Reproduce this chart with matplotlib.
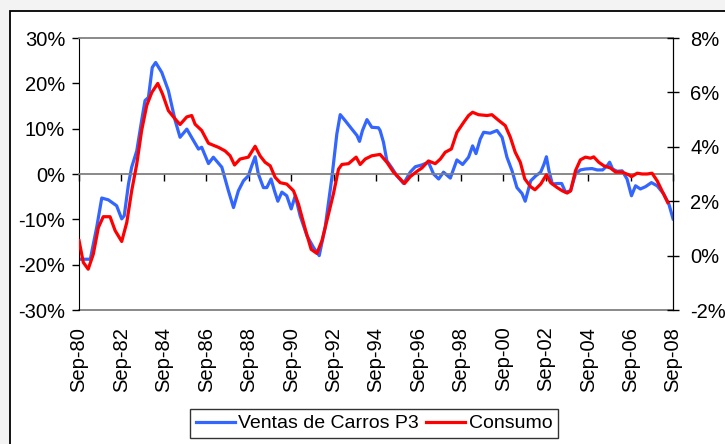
import matplotlib
matplotlib.use("Agg")
import matplotlib.pyplot as plt
from matplotlib.patches import Rectangle
from matplotlib.ticker import FuncFormatter, MultipleLocator

plt.rcParams['font.family'] = ['Liberation Sans', 'DejaVu Sans']
plt.rcParams['font.size'] = 14

# ---- data (decimal years) ----
ventas_t = [1980.67, 1981.20, 1981.50, 1981.74, 1982.05, 1982.44, 1982.68, 1982.80, 1983.00, 1983.15,
            1983.39, 1983.62, 1983.78, 1983.94, 1984.12, 1984.28, 1984.57, 1984.88, 1985.20, 1985.43,
            1985.75, 1986.06, 1986.30, 1986.45, 1986.77, 1987.00, 1987.40, 1987.71, 1987.95, 1988.18,
            1988.42, 1988.65, 1988.81, 1988.97, 1989.12, 1989.36, 1989.52, 1989.72, 1989.88, 1990.04,
            1990.23, 1990.46, 1990.67, 1990.86, 1991.09, 1991.41, 1991.72, 1991.99, 1992.27, 1992.59,
            1992.82, 1992.98, 1993.21, 1993.53, 1993.77, 1993.89, 1994.03, 1994.24, 1994.47, 1994.78,
            1994.86, 1995.02, 1995.18, 1995.42, 1995.65, 1995.97, 1996.28, 1996.52, 1996.83, 1997.14,
            1997.38, 1997.62, 1997.85, 1998.17, 1998.48, 1998.75, 1999.03, 1999.22, 1999.38, 1999.58,
            1999.74, 2000.05, 2000.37, 2000.61, 2000.84, 2001.08, 2001.31, 2001.55, 2001.70, 2001.96,
            2002.20, 2002.43, 2002.59, 2002.70, 2002.82, 2002.98, 2003.21, 2003.42, 2003.60, 2003.84,
            2004.07, 2004.30, 2004.54, 2004.85, 2005.09, 2005.35, 2005.56, 2005.68, 2005.82, 2006.03,
            2006.27, 2006.50, 2006.71, 2006.90, 2007.13, 2007.37, 2007.65, 2007.92, 2008.23, 2008.47,
            2008.67]
ventas_v = [-18.8, -18.8, -11.8, -5.3, -5.7, -7.0, -9.9, -9.2, -2.2, 1.5,
            5.1, 11.8, 16.2, 16.9, 23.5, 24.6, 22.4, 18.4, 11.8, 8.1,
            9.9, 7.4, 5.5, 5.9, 2.3, 3.7, 1.5, -3.7, -7.4, -3.7,
            -1.5, -0.4, 1.8, 3.8, 0.0, -3.0, -3.0, -1.1, -3.7, -6.0,
            -4.0, -4.8, -7.7, -4.8, -9.2, -13.6, -16.2, -18.0, -11.8, -0.7,
            8.8, 13.1, 11.8, 9.9, 8.5, 7.2, 9.6, 12.0, 10.3, 10.2,
            9.6, 7.0, 2.9, 1.3, -0.4, -2.1, 0.4, 1.6, 2.0, 2.6,
            0.0, -1.1, 0.4, -0.9, 3.1, 2.1, 3.7, 6.2, 4.5, 7.7,
            9.2, 9.0, 9.6, 8.1, 3.7, 0.7, -3.0, -4.3, -6.0, -1.5,
            -0.4, 0.4, 2.2, 3.8, 0.7, -2.2, -2.1, -2.1, -4.0, -3.7,
            0.0, 0.9, 1.1, 1.2, 0.9, 0.9, 1.8, 2.6, 1.1, 0.6,
            0.7, -1.1, -4.8, -2.6, -3.3, -2.8, -1.9, -2.6, -4.4, -6.6,
            -9.9]

consumo_t = [1980.67, 1980.87, 1981.10, 1981.34, 1981.58, 1981.81, 1982.13, 1982.37, 1982.68, 1982.92,
             1983.15, 1983.39, 1983.62, 1983.86, 1984.10, 1984.38, 1984.60, 1984.88, 1985.20, 1985.43,
             1985.75, 1985.98, 1986.14, 1986.45, 1986.77, 1987.24, 1987.55, 1987.79, 1988.00, 1988.26,
             1988.65, 1988.97, 1989.20, 1989.44, 1989.68, 1989.91, 1990.15, 1990.46, 1990.78, 1991.01,
             1991.33, 1991.61, 1991.88, 1992.12, 1992.43, 1992.66, 1992.90, 1993.06, 1993.37, 1993.73,
             1993.92, 1994.16, 1994.47, 1994.86, 1995.18, 1995.49, 1995.73, 1996.01, 1996.28, 1996.60,
             1996.83, 1997.14, 1997.46, 1997.70, 1997.93, 1998.22, 1998.48, 1998.80, 1999.03, 1999.22,
             1999.50, 1999.90, 2000.13, 2000.45, 2000.76, 2001.00, 2001.23, 2001.47, 2001.68, 2001.96,
             2002.16, 2002.43, 2002.70, 2002.90, 2003.21, 2003.45, 2003.68, 2003.84, 2004.07, 2004.30,
             2004.54, 2004.78, 2004.93, 2005.17, 2005.41, 2005.72, 2005.96, 2006.27, 2006.58, 2006.71,
             2006.98, 2007.21, 2007.45, 2007.68, 2007.92, 2008.15, 2008.42]
consumo_v = [0.55, -0.25, -0.50, 0.05, 1.03, 1.43, 1.43, 0.92, 0.52, 1.22,
             2.38, 3.37, 4.60, 5.52, 6.00, 6.33, 5.95, 5.33, 5.02, 4.82,
             5.10, 5.15, 4.83, 4.60, 4.13, 3.98, 3.85, 3.67, 3.33, 3.55,
             3.62, 4.02, 3.67, 3.43, 3.30, 2.88, 2.68, 2.63, 2.38, 1.90,
             0.98, 0.23, 0.08, 0.55, 1.53, 2.27, 3.18, 3.35, 3.38, 3.62,
             3.35, 3.55, 3.67, 3.72, 3.43, 3.07, 2.88, 2.65, 2.90, 3.10,
             3.22, 3.48, 3.38, 3.55, 3.80, 3.92, 4.53, 4.90, 5.15, 5.27,
             5.18, 5.15, 5.18, 4.97, 4.78, 4.35, 3.80, 3.43, 2.82, 2.53,
             2.42, 2.63, 2.97, 2.68, 2.50, 2.38, 2.30, 2.38, 3.12, 3.52,
             3.62, 3.58, 3.63, 3.43, 3.30, 3.22, 3.07, 3.07, 2.97, 2.90,
             3.03, 3.00, 3.00, 3.03, 2.75, 2.38, 1.95]

xtick_pos = [1980.667 + 2 * k for k in range(15)]
xtick_labels = ['Sep-80', 'Sep-82', 'Sep-84', 'Sep-86', 'Sep-88', 'Sep-90', 'Sep-92', 'Sep-94',
                'Sep-96', 'Sep-98', 'Sep-00', 'Sep-02', 'Sep-04', 'Sep-06', 'Sep-08']

BLUE = '#3366FF'
RED = '#FF0000'
GRAY = '#808080'
LBL = 14.5

W, H = 725, 444
fig = plt.figure(figsize=(W / 100, H / 100), dpi=100, facecolor='#f3f3f3')
fig.patches.append(Rectangle((10 / W, -0.1), 1.2, (H - 11) / H + 0.1, transform=fig.transFigure,
                             facecolor='white', edgecolor='black', lw=1.3, zorder=-10))

ax = fig.add_axes([79 / W, 1 - 310 / H, 594 / W, 272 / H])
ax.set_facecolor('white')
ax.set_xlim(1980.667, 2008.667)
ax.set_ylim(-30, 30)
ax.yaxis.set_major_locator(MultipleLocator(10))
ax.yaxis.set_major_formatter(FuncFormatter(lambda v, p: f'{v:.0f}%'))
ax.tick_params(axis='y', direction='out', length=5, width=1, colors='black', pad=5, labelsize=LBL)

# category axis crossing at zero
ax.spines['bottom'].set_position(('data', 0))
ax.spines['bottom'].set_color(GRAY)
ax.spines['bottom'].set_linewidth(1.3)
ax.set_xticks(xtick_pos)
ax.tick_params(axis='x', direction='out', length=5, width=1, color='black', labelbottom=False)
ax.spines['top'].set_color(GRAY)
ax.spines['top'].set_linewidth(1.3)
ax.spines['left'].set_color('black')
ax.spines['right'].set_color('black')

sec = ax.secondary_xaxis('bottom')
sec.set_xticks(xtick_pos, labels=xtick_labels, rotation=90)
sec.tick_params(length=0, pad=12, labelsize=LBL)
sec.spines['bottom'].set_color(GRAY)
sec.spines['bottom'].set_linewidth(1.3)

l1, = ax.plot(ventas_t, ventas_v, color=BLUE, lw=2.3, solid_joinstyle='round', label='Ventas de Carros P3')

ax2 = ax.twinx()
ax2.set_ylim(-2, 8)
ax2.yaxis.set_major_locator(MultipleLocator(2))
ax2.yaxis.set_major_formatter(FuncFormatter(lambda v, p: f'{v:.0f}%'))
ax2.tick_params(axis='y', direction='inout', length=9, width=1, colors='black', pad=8, labelsize=LBL)
for s in ['top', 'bottom', 'left']:
    ax2.spines[s].set_visible(False)
ax2.spines['right'].set_color('black')
l2, = ax2.plot(consumo_t, consumo_v, color=RED, lw=2.3, solid_joinstyle='round', label='Consumo')

leg = fig.legend(handles=[l1, l2], loc='upper center', bbox_to_anchor=(374 / W, 1 - 409 / H),
                 ncol=2, frameon=True, fancybox=False, edgecolor='black', fontsize=14,
                 handlelength=2.0, handletextpad=0.2, columnspacing=0.35, borderpad=0.3,
                 borderaxespad=0)
leg.get_frame().set_linewidth(1.0)

fig.savefig('out.png', dpi=100, facecolor=fig.get_facecolor())
